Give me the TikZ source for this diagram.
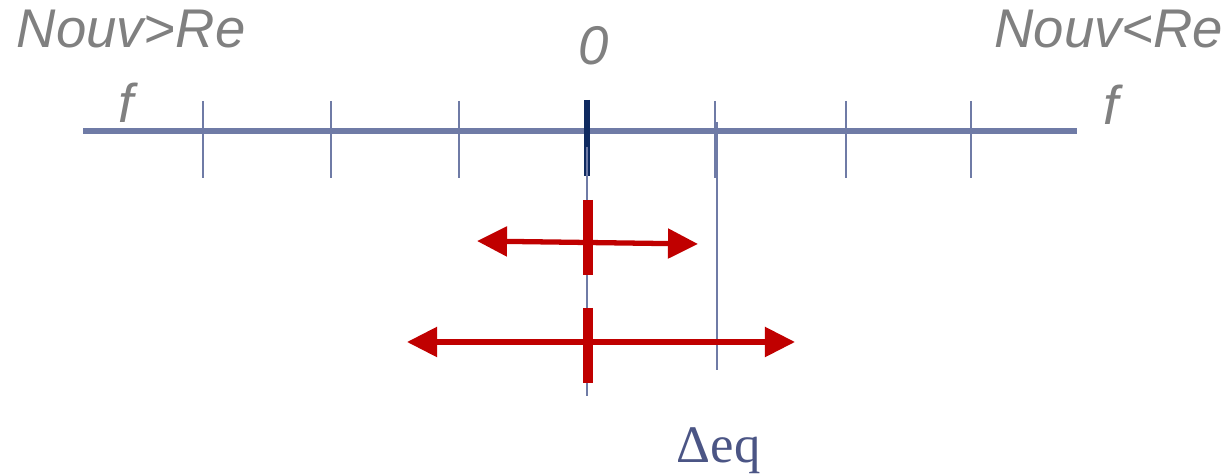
\documentclass[tikz,border=0pt]{standalone}
\usepackage{fontspec}
\setmainfont{Liberation Serif}
\setsansfont{Liberation Sans}
\usetikzlibrary{arrows.meta}
\definecolor{axisblue}{HTML}{6F7BA6}
\definecolor{zeronavy}{HTML}{0F2A60}
\definecolor{shiftred}{HTML}{C00000}
\definecolor{labelgray}{HTML}{808080}
\definecolor{deltablue}{HTML}{4B5585}

\begin{document}
\begin{tikzpicture}[x=0.01cm,y=-0.01cm,
  point/.style={coordinate},
  axis/.style={draw=axisblue, line width=1.45pt},
  tick/.style={draw=axisblue, line width=0.6pt},
  zerotick/.style={draw=zeronavy, line width=1.6pt},
  shiftarrow/.style={draw=shiftred, line width=1.5pt, {Triangle[length=0.3cm,width=0.29cm]}-{Triangle[length=0.3cm,width=0.29cm]}},
  bar/.style={draw=shiftred, line width=2.9pt},
  side/.style={font=\sffamily\itshape\fontsize{15.5}{18}\selectfont, text=labelgray, inner sep=0pt}]
\useasboundingbox (0,0) rectangle (1229,476);
% frequency axis
\node[point] (a0) at (83,131)  {};
\node[point] (a1) at (1077,131) {};
\draw[axis] (a0) -- (a1);
\foreach \x in {203,331,459,715,846,971} {
  \node[point] (tt\x) at (\x,101) {};
  \node[point] (tb\x) at (\x,178) {};
  \draw[tick] (tt\x) -- (tb\x);
}
\node[point] (z0) at (587,100) {};
\node[point] (z1) at (587,176) {};
\draw[zerotick] (z0) -- (z1);
% guide lines
\node[point] (g0) at (587,147) {};
\node[point] (g1) at (587,396) {};
\node[point] (e0) at (717,122) {};
\node[point] (e1) at (717,370) {};
\draw[tick] (g0) -- (g1);
\draw[tick] (e0) -- (e1);
% shifts
\node[point] (s0) at (477,241) {};
\node[point] (s1) at (698,244) {};
\node[point] (w0) at (407,342) {};
\node[point] (w1) at (795,342) {};
\draw[shiftarrow] (s0) -- (s1);
\draw[shiftarrow] (w0) -- (w1);
\node[point] (b0) at (588,200) {};
\node[point] (b1) at (588,275) {};
\node[point] (c0) at (588,308) {};
\node[point] (c1) at (588,383) {};
\draw[bar] (b0) -- (b1);
\draw[bar] (c0) -- (c1);
% labels
\node[side, anchor=base west] (left)  at (16,48)   {Nouv>Re};
\node[side, anchor=base east] (right) at (1224,48) {Nouv<Re};
\node[side, anchor=base] (zero) at (594,65)  {0};
\node[side, anchor=base] (fl)   at (126,123) {f};
\node[side, anchor=base] (fr)   at (1111,125) {f};
\node[anchor=base west, inner sep=0pt, text=deltablue, font=\fontsize{15}{17}\selectfont] (deq) at (676,463) {Δeq};
\end{tikzpicture}
\end{document}
